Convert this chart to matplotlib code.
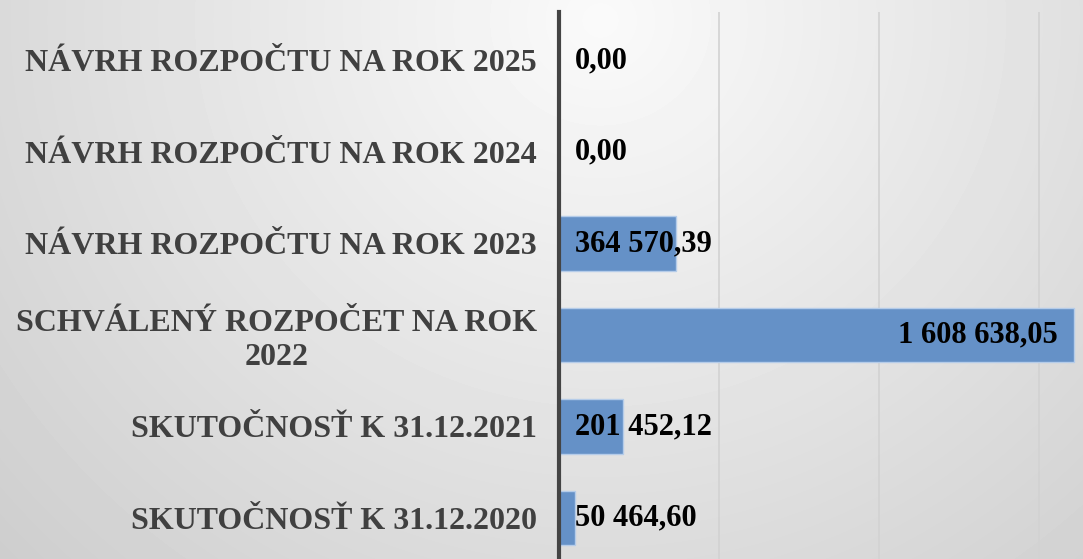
import numpy as np
import matplotlib
matplotlib.use('Agg')
import matplotlib.pyplot as plt

categories = [
    'SKUTOČNOSŤ K 31.12.2020',
    'SKUTOČNOSŤ K 31.12.2021',
    'SCHVÁLENÝ ROZPOČET NA ROK\n2022',
    'NÁVRH ROZPOČTU NA ROK 2023',
    'NÁVRH ROZPOČTU NA ROK 2024',
    'NÁVRH ROZPOČTU NA ROK 2025',
]
values = [50464.60, 201452.12, 1608638.05, 364570.39, 0.00, 0.00]

plt.rcParams['font.family'] = ['Liberation Serif', 'DejaVu Serif']

W, H = 1083, 559
fig = plt.figure(figsize=(W / 100, H / 100), dpi=100)

# radial grey background, light near the top centre
bg = fig.add_axes([0, 0, 1, 1], zorder=-10)
yy, xx = np.mgrid[0:H, 0:W]
d = np.sqrt((xx - 600) ** 2 + ((yy - 20) * 1.05) ** 2)
shade = np.clip(250 - 0.054 * d, 190, 252) / 255
bg.imshow(shade, cmap='gray', vmin=0, vmax=1, extent=[0, W, H, 0], aspect='auto')
bg.axis('off')

# axes placed in pixel terms: axis line at x=559, top at y=12, row step ~91.5 px
row = 91.5
top_px = 12
ylo, yhi = -0.53, 5.53
ax_h = (yhi - ylo) * row
ax = fig.add_axes([559 / W, (H - top_px - ax_h) / H, (W - 559) / W, ax_h / H])
ax.patch.set_alpha(0)

y = np.arange(len(categories))
ax.barh(y, values, height=0.6, color='#6591C7', edgecolor='#B5CCE9', linewidth=1, zorder=3)

ax.set_xlim(0, (W - 559) / 160 * 500000)
ax.set_ylim(ylo, yhi)
ax.set_xticks([500000, 1000000, 1500000])
ax.xaxis.grid(True, color='#d2d2d2', linewidth=1.2, zorder=0)
ax.tick_params(axis='x', length=0, labelbottom=False)
ax.tick_params(axis='y', length=0, pad=16)
ax.set_yticks(y)
ax.set_yticklabels(categories, fontsize=23, fontweight='bold', color='#404040')
for lab in ax.get_yticklabels():
    lab.set_multialignment('center')

for s in ['top', 'right', 'bottom']:
    ax.spines[s].set_visible(False)
ax.spines['left'].set_color('#444444')
ax.spines['left'].set_linewidth(3)
ax.spines['left'].set_zorder(5)

px = ax.get_xlim()[1] / (W - 559)
vmax = max(values)
for yi, v in zip(y, values):
    txt = f'{v:,.2f}'.replace(',', ' ').replace('.', ',')
    if v == vmax:
        ax.text(v - 16 * px, yi, txt, ha='right', va='center', fontsize=22,
                fontweight='bold', color='black', zorder=6)
    else:
        ax.text(16 * px, yi, txt, ha='left', va='center', fontsize=22,
                fontweight='bold', color='black', zorder=6)

fig.savefig('out.png', dpi=100)
